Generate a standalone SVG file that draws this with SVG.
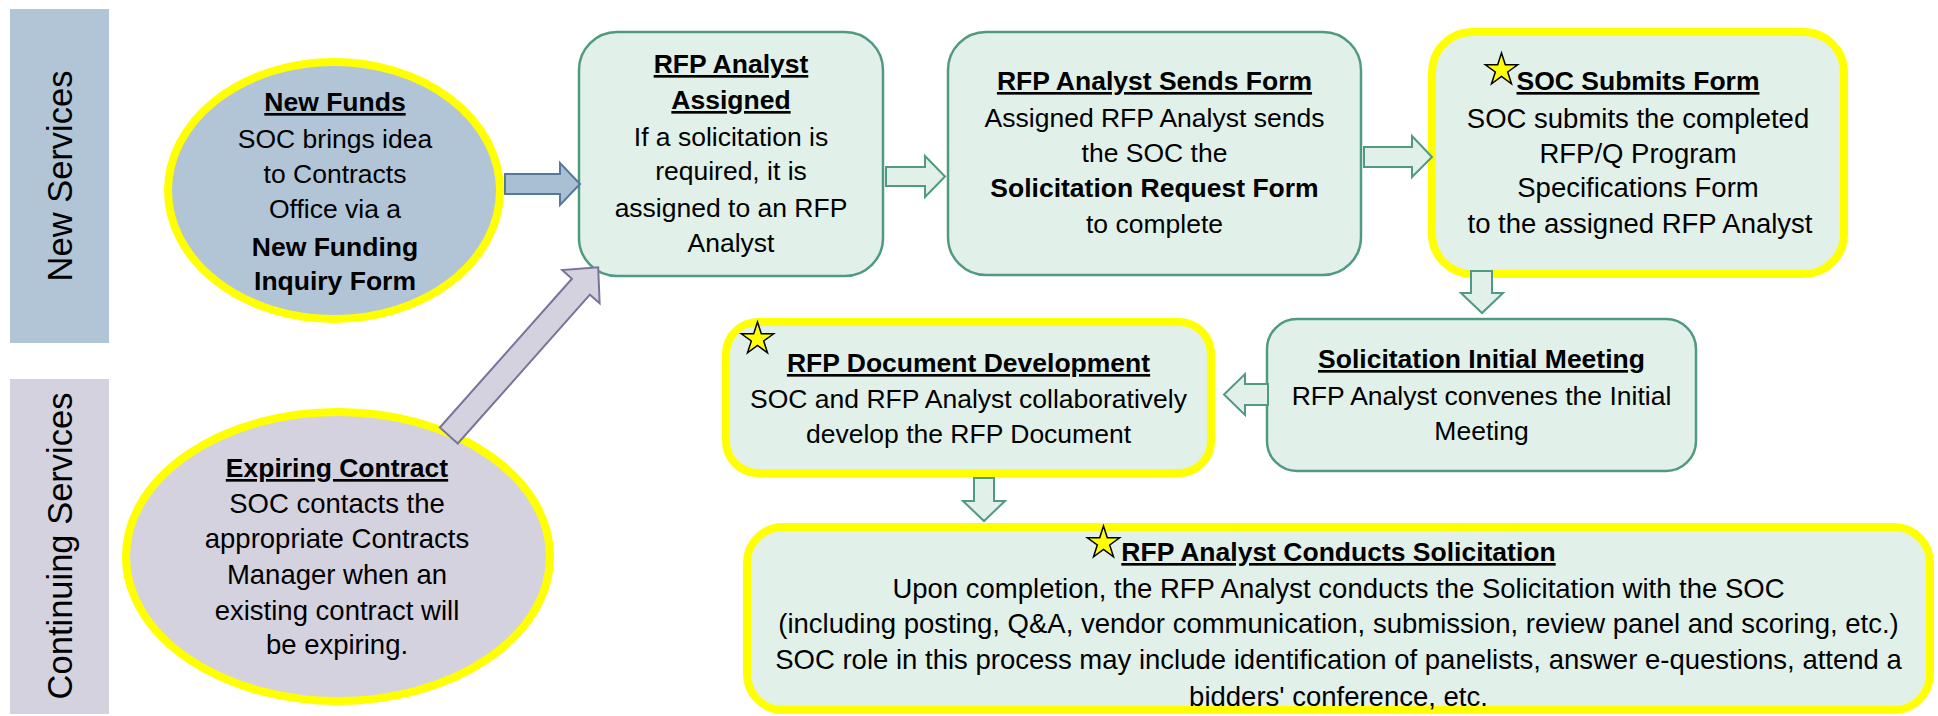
<svg xmlns="http://www.w3.org/2000/svg" width="1938" height="716" viewBox="0 0 1938 716">
<defs>
<style>
text{font-family:"Liberation Sans",Arial,sans-serif;font-size:26.5px;fill:#000;text-anchor:middle}
.b{font-weight:bold}
.u{text-decoration:underline}
.lbl{font-size:34.5px}
.big{font-size:27.5px}
.box{fill:#e2f0ea;stroke:#4f9a80;stroke-width:2.5}
.ybox{fill:#e2f0ea;stroke:#ffff00;stroke-width:8}
.garrow{fill:#e2f0ea;stroke:#4f9a80;stroke-width:2}
.star{fill:#ffff00;stroke:#000;stroke-width:1.5;stroke-linejoin:miter}
</style>
<path id="star" d="M0,-17 L3.82,-5.26 L16.17,-5.25 L6.18,2.01 L9.99,13.75 L0,6.5 L-9.99,13.75 L-6.18,2.01 L-16.17,-5.25 L-3.82,-5.26 Z"/>
</defs>
<rect width="1938" height="716" fill="#ffffff"/>

<g id="lane-new">
<rect x="10" y="9" width="99" height="334" fill="#b1c5d7"/>
<text class="lbl" transform="translate(72,176) rotate(-90)">New Services</text>
</g>
<g id="lane-continuing">
<rect x="10" y="379" width="99" height="335" fill="#d4d2de"/>
<text class="lbl" transform="translate(72,546) rotate(-90)">Continuing Services</text>
</g>

<g id="new-funds">
<ellipse cx="334" cy="190.5" rx="166" ry="128.5" fill="#b1c5d7" stroke="#ffff00" stroke-width="8"/>
<text x="335" y="111" class="b u">New Funds</text>
<text x="335" y="148">SOC brings idea</text>
<text x="335" y="183">to Contracts</text>
<text x="335" y="218">Office via a</text>
<text x="335" y="256" class="b">New Funding</text>
<text x="335" y="290" class="b">Inquiry Form</text>
</g>

<g id="expiring-contract">
<ellipse cx="338" cy="556.5" rx="212" ry="144.5" fill="#d4d2de" stroke="#ffff00" stroke-width="8"/>
<text x="337" y="477" class="b u">Expiring Contract</text>
<text x="337" y="513" class="big">SOC contacts the</text>
<text x="337" y="548" class="big">appropriate Contracts</text>
<text x="337" y="584" class="big">Manager when an</text>
<text x="337" y="620" class="big">existing contract will</text>
<text x="337" y="654" class="big">be expiring.</text>
</g>

<g id="rfp-analyst-assigned">
<rect x="579" y="32" width="304" height="244" rx="38" class="box"/>
<text x="731" y="73" class="b u">RFP Analyst</text>
<text x="731" y="109" class="b u">Assigned</text>
<text x="731" y="146">If a solicitation is</text>
<text x="731" y="180">required, it is</text>
<text x="731" y="217">assigned to an RFP</text>
<text x="731" y="252">Analyst</text>
</g>

<g id="rfp-analyst-sends-form">
<rect x="948" y="32" width="413" height="243" rx="38" class="box"/>
<text x="1154.5" y="90" class="b u">RFP Analyst Sends Form</text>
<text x="1154.5" y="127">Assigned RFP Analyst sends</text>
<text x="1154.5" y="162">the SOC the</text>
<text x="1154.5" y="197" class="b">Solicitation Request Form</text>
<text x="1154.5" y="233">to complete</text>
</g>

<g id="soc-submits-form">
<rect x="1432" y="32" width="412" height="242" rx="40" class="ybox"/>
<use href="#star" x="1501.5" y="70" class="star"/>
<text x="1638" y="90" class="b u">SOC Submits Form</text>
<text x="1638" y="128" class="big">SOC submits the completed</text>
<text x="1638" y="163" class="big">RFP/Q Program</text>
<text x="1638" y="197" class="big">Specifications Form</text>
<text x="1640" y="233" class="big"> to the assigned RFP Analyst</text>
</g>

<g id="solicitation-initial-meeting">
<rect x="1267" y="319" width="429" height="152" rx="30" class="box"/>
<text x="1481.5" y="368" class="b u">Solicitation Initial Meeting</text>
<text x="1481.5" y="405">RFP Analyst convenes the Initial</text>
<text x="1481.5" y="440">Meeting</text>
</g>

<g id="rfp-document-development">
<rect x="726" y="322" width="485" height="151" rx="32" class="ybox"/>
<use href="#star" x="757.5" y="339" class="star"/>
<text x="968.5" y="372" class="b u">RFP Document Development</text>
<text x="968.5" y="408">SOC and RFP Analyst collaboratively</text>
<text x="968.5" y="443">develop the RFP Document</text>
</g>

<g id="rfp-analyst-conducts-solicitation">
<rect x="747" y="527" width="1183" height="183" rx="36" class="ybox"/>
<use href="#star" x="1103.5" y="543" class="star"/>
<text x="1338.5" y="561" class="b u">RFP Analyst Conducts Solicitation</text>
<text x="1338.5" y="598" class="big">Upon completion, the RFP Analyst conducts the Solicitation with the SOC</text>
<text x="1338.5" y="633" class="big">(including posting, Q&amp;A, vendor communication, submission, review panel and scoring, etc.)</text>
<text x="1338.5" y="669" class="big">SOC role in this process may include identification of panelists, answer e-questions, attend a</text>
<text x="1338.5" y="706" class="big">bidders' conference, etc.</text>
</g>

<g id="connectors">
<polygon points="505,174 560,174 560,163 580,184 560,205 560,194 505,194" fill="#a9c0d4" stroke="#56789a" stroke-width="2"/>
<polygon points="0,-12 199,-12 199,-25 225,0 199,25 199,12 0,12" transform="translate(448.8,435.5) rotate(-48.4)" fill="#d4d2de" stroke="#77759a" stroke-width="2"/>
<polygon points="886,167 925,167 925,156 945,176.5 925,197 925,186 886,186" class="garrow"/>
<polygon points="1364,147 1412,147 1412,136 1432,157 1412,177 1412,167 1364,167" class="garrow"/>
<polygon points="1471,271 1492,271 1492,293 1503,293 1482,313 1461,293 1471,293" class="garrow"/>
<polygon points="1268,384 1245,384 1245,374 1224,394.5 1245,415 1245,405 1268,405" class="garrow"/>
<polygon points="974,478 994,478 994,501 1005,501 984,521 963,501 974,501" class="garrow"/>
</g>
</svg>
